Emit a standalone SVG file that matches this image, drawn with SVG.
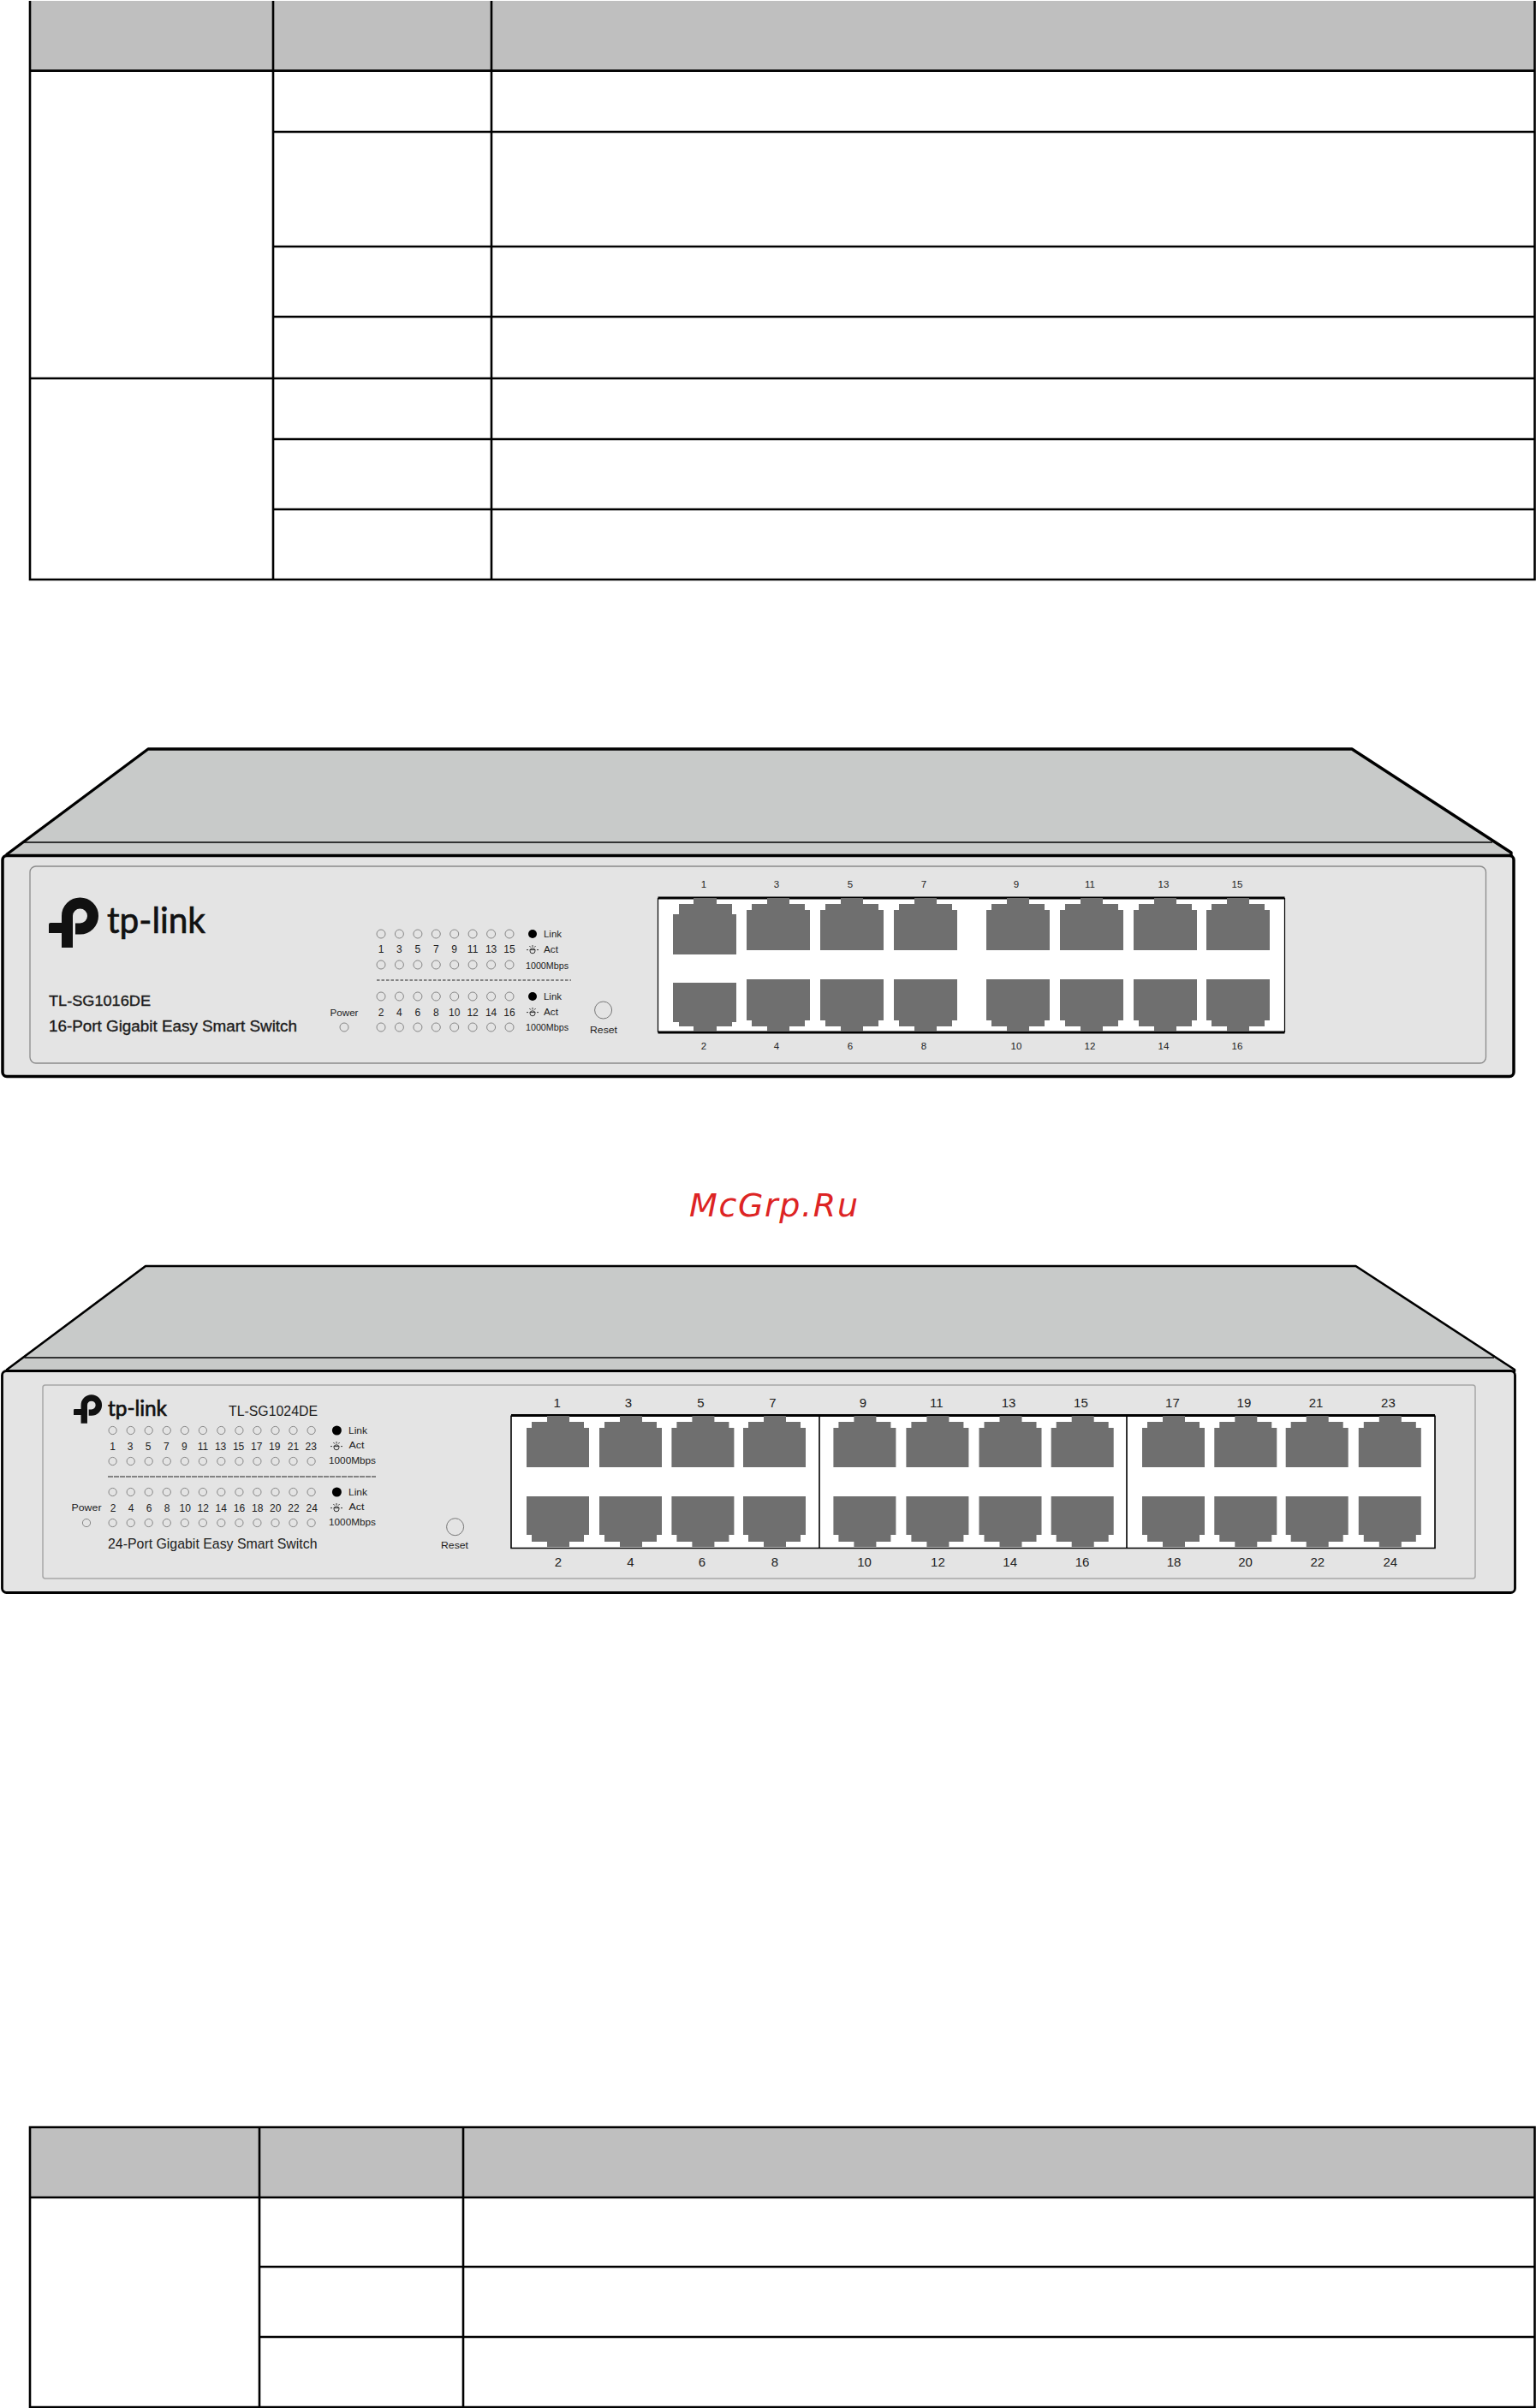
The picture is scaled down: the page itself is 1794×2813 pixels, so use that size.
<svg xmlns="http://www.w3.org/2000/svg" xmlns:xlink="http://www.w3.org/1999/xlink" width="1794" height="2813" viewBox="0 0 1794 2813">
<style>
.tl{stroke:#000;stroke-width:2.6;fill:none}
.hd{fill:#bfbfbf}
.top{fill:#c8cac9;stroke:#000;stroke-linejoin:round}
.front{fill:#e4e4e4;stroke:#000}
.panel{fill:#e4e4e4;stroke:#8a8a8a;stroke-width:1.3}
.panel2{fill:#e4e4e4;stroke:#a6a6a6;stroke-width:1.5}
.edge{stroke:#000;stroke-width:1.5;fill:none}
.box{fill:#fff}
.port{fill:#6f6f6f}
.led{fill:none;stroke:#7c7c7c;stroke-width:.9}
.t{font-family:"Liberation Sans",Arial,sans-serif;fill:#1c1c1c}
.hv{stroke:#1c1c1c;stroke-width:.35}
.m{text-anchor:middle}
.n1{font-size:12px}
.n2{font-size:12px}
.lb1{font-size:11.5px}
.lb2{font-size:15px}
.s{font-size:11.5px}
.logo{font-family:Lato,"Open Sans",sans-serif;fill:#111;stroke:#111;stroke-width:.7}
.wm{font-family:"DejaVu Sans",sans-serif;font-style:italic;font-size:38px;fill:#dd2424}
</style>
<defs>
<g id="mark">
<path d="M21.5 59V22A15 15 0 1 1 36.5 37H31" fill="none" stroke="#111" stroke-width="13"/>
<path d="M2 30H28V42H0V32Q0 30 2 30Z" fill="#111"/>
</g>
<g id="act" fill="none" stroke="#222" stroke-width=".9">
<circle cx="0" cy="1.8" r="3"/>
<path d="M-3.4 .6H3.4M0 -5V-2.6M-3.6 -4L-2.2 -2.4M3.6 -4L2.2 -2.4M-7 .6H-5M5 .6H7"/>
</g>
<path id="pt" class="port" d="M0 14H6V7H24V0H50V7H68V14H74V61H0Z"/>
<path id="pb" class="port" d="M0 0H74V48H68V55H50V61H24V55H6V48H0Z"/>
<path id="pt2" class="port" d="M0 14H6V7H24V0H50V7H67V14H73V60H0Z"/>
<path id="pb2" class="port" d="M0 0H73V45H67V53H50V59H24V53H6V45H0Z"/>
</defs>
<rect width="1794" height="2813" fill="#fff"/>

<g id="table-top">
<rect class="hd" x="35" y="1" width="1757" height="81.500"/>
<path class="tl" d="M35 1V677H1792.500V1M35 82.600H1792.500M319 1V677M574 1V677M319 154H1792.500M319 288H1792.500M319 370H1792.500M35 442H1792.500M319 513H1792.500M319 595H1792.500"/>
</g>

<g id="switch-16">
<path class="top" stroke-width="3.400" d="M173 875H1579L1765 996V1001H8V998Z"/>
<path class="edge" d="M28 984H1743"/>
<rect class="front" stroke-width="3.500" x="3" y="999.500" width="1765" height="258" rx="5"/>
<rect class="panel" x="35" y="1012" width="1700.500" height="230" rx="7"/>
<g id="logo-16">
<use href="#mark" x="57" y="1048"/>
<text class="logo" x="125" y="1090" font-size="42" textLength="115" lengthAdjust="spacingAndGlyphs">tp-link</text>
</g>
<text class="t hv" x="57" y="1175" font-size="16.500" textLength="119" lengthAdjust="spacingAndGlyphs">TL-SG1016DE</text>
<text class="t hv" x="57" y="1205" font-size="17.500" textLength="290" lengthAdjust="spacingAndGlyphs">16-Port Gigabit Easy Smart Switch</text>
<g id="leds-16">
<circle class="led" cx="445" cy="1091" r="5"/><circle class="led" cx="466.400" cy="1091" r="5"/><circle class="led" cx="487.900" cy="1091" r="5"/><circle class="led" cx="509.300" cy="1091" r="5"/><circle class="led" cx="530.700" cy="1091" r="5"/><circle class="led" cx="552.100" cy="1091" r="5"/><circle class="led" cx="573.600" cy="1091" r="5"/><circle class="led" cx="595" cy="1091" r="5"/>
<circle class="led" cx="445" cy="1127" r="5"/><circle class="led" cx="466.400" cy="1127" r="5"/><circle class="led" cx="487.900" cy="1127" r="5"/><circle class="led" cx="509.300" cy="1127" r="5"/><circle class="led" cx="530.700" cy="1127" r="5"/><circle class="led" cx="552.100" cy="1127" r="5"/><circle class="led" cx="573.600" cy="1127" r="5"/><circle class="led" cx="595" cy="1127" r="5"/>
<circle class="led" cx="445" cy="1164" r="5"/><circle class="led" cx="466.400" cy="1164" r="5"/><circle class="led" cx="487.900" cy="1164" r="5"/><circle class="led" cx="509.300" cy="1164" r="5"/><circle class="led" cx="530.700" cy="1164" r="5"/><circle class="led" cx="552.100" cy="1164" r="5"/><circle class="led" cx="573.600" cy="1164" r="5"/><circle class="led" cx="595" cy="1164" r="5"/>
<circle class="led" cx="445" cy="1200" r="5"/><circle class="led" cx="466.400" cy="1200" r="5"/><circle class="led" cx="487.900" cy="1200" r="5"/><circle class="led" cx="509.300" cy="1200" r="5"/><circle class="led" cx="530.700" cy="1200" r="5"/><circle class="led" cx="552.100" cy="1200" r="5"/><circle class="led" cx="573.600" cy="1200" r="5"/><circle class="led" cx="595" cy="1200" r="5"/>
<circle class="led" cx="402" cy="1200" r="5"/>
</g>
<g class="t m n1">
<text x="445" y="1113">1</text><text x="466.400" y="1113">3</text><text x="487.900" y="1113">5</text><text x="509.300" y="1113">7</text><text x="530.700" y="1113">9</text><text x="552.100" y="1113">11</text><text x="573.600" y="1113">13</text><text x="595" y="1113">15</text>
<text x="445" y="1187">2</text><text x="466.400" y="1187">4</text><text x="487.900" y="1187">6</text><text x="509.300" y="1187">8</text><text x="530.700" y="1187">10</text><text x="552.100" y="1187">12</text><text x="573.600" y="1187">14</text><text x="595" y="1187">16</text>
</g>
<circle cx="622" cy="1091" r="5" fill="#000"/>
<use href="#act" x="622" y="1109"/>
<circle cx="622" cy="1164" r="5" fill="#000"/>
<use href="#act" x="622" y="1182"/>
<g class="t s">
<text x="635" y="1095" textLength="21" lengthAdjust="spacingAndGlyphs">Link</text>
<text x="635" y="1113" textLength="17" lengthAdjust="spacingAndGlyphs">Act</text>
<text x="614" y="1132" textLength="50" lengthAdjust="spacingAndGlyphs">1000Mbps</text>
<text x="635" y="1168" textLength="21" lengthAdjust="spacingAndGlyphs">Link</text>
<text x="635" y="1186" textLength="17" lengthAdjust="spacingAndGlyphs">Act</text>
<text x="614" y="1204" textLength="50" lengthAdjust="spacingAndGlyphs">1000Mbps</text>
<text x="385.500" y="1187" textLength="33" lengthAdjust="spacingAndGlyphs">Power</text>
<text x="689" y="1207" textLength="32" lengthAdjust="spacingAndGlyphs">Reset</text>
</g>
<path d="M440 1145H667" stroke="#222" stroke-width="1" stroke-dasharray="3.500 2" fill="none"/>
<circle cx="704.600" cy="1180" r="10" fill="none" stroke="#777" stroke-width="1"/>
<g id="ports-16">
<rect class="box" x="768.500" y="1049" width="732" height="157"/>
<path d="M768.500 1049H1500.500M768.500 1206H1500.500" stroke="#000" stroke-width="3" fill="none"/>
<path d="M768.500 1049V1206M1500.500 1049V1206" stroke="#000" stroke-width="1.200" fill="none"/>
<path class="port" d="M786 1068H793V1056H810V1049H837V1056H855V1068H860V1115H786Z"/>
<path class="port" d="M786 1148H860V1194H855V1199H837V1205H810V1199H793V1194H786Z"/>
<use href="#pt" x="872" y="1049"/><use href="#pt" x="958" y="1049"/><use href="#pt" x="1044" y="1049"/><use href="#pt" x="1152" y="1049"/><use href="#pt" x="1238" y="1049"/><use href="#pt" x="1324" y="1049"/><use href="#pt" x="1409" y="1049"/>
<use href="#pb" x="872" y="1144"/><use href="#pb" x="958" y="1144"/><use href="#pb" x="1044" y="1144"/><use href="#pb" x="1152" y="1144"/><use href="#pb" x="1238" y="1144"/><use href="#pb" x="1324" y="1144"/><use href="#pb" x="1409" y="1144"/>
</g>
<g class="t m lb1">
<text x="822" y="1037">1</text><text x="907" y="1037">3</text><text x="993" y="1037">5</text><text x="1079" y="1037">7</text><text x="1187" y="1037">9</text><text x="1273" y="1037">11</text><text x="1359" y="1037">13</text><text x="1445" y="1037">15</text>
<text x="822" y="1226">2</text><text x="907" y="1226">4</text><text x="993" y="1226">6</text><text x="1079" y="1226">8</text><text x="1187" y="1226">10</text><text x="1273" y="1226">12</text><text x="1359" y="1226">14</text><text x="1445" y="1226">16</text>
</g>
</g>

<text id="watermark" class="wm" x="805" y="1421" textLength="197" lengthAdjust="spacing">McGrp.Ru</text>

<g id="switch-24">
<path class="top" stroke-width="2.600" d="M170 1479H1583.500L1769 1600V1602H8V1600Z"/>
<path class="edge" d="M28.500 1586H1745"/>
<rect class="front" stroke-width="2.800" x="2.500" y="1601.500" width="1767" height="259" rx="5"/>
<rect class="panel2" x="50" y="1618" width="1673" height="226" rx="3"/>
<g id="logo-24">
<use href="#mark" transform="translate(86 1629) scale(.57)"/>
<text class="logo" x="126" y="1654" font-size="25" textLength="69" lengthAdjust="spacingAndGlyphs">tp-link</text>
</g>
<text class="t" x="267" y="1654" font-size="16" textLength="104" lengthAdjust="spacingAndGlyphs">TL-SG1024DE</text>
<text class="t" x="126" y="1809" font-size="17" textLength="244.500" lengthAdjust="spacingAndGlyphs">24-Port Gigabit Easy Smart Switch</text>
<g id="leds-24">
<circle class="led" cx="131.600" cy="1671" r="4.600"/><circle class="led" cx="152.700" cy="1671" r="4.600"/><circle class="led" cx="173.700" cy="1671" r="4.600"/><circle class="led" cx="194.800" cy="1671" r="4.600"/><circle class="led" cx="215.800" cy="1671" r="4.600"/><circle class="led" cx="236.900" cy="1671" r="4.600"/><circle class="led" cx="258.300" cy="1671" r="4.600"/><circle class="led" cx="279.400" cy="1671" r="4.600"/><circle class="led" cx="300.400" cy="1671" r="4.600"/><circle class="led" cx="321.500" cy="1671" r="4.600"/><circle class="led" cx="342.500" cy="1671" r="4.600"/><circle class="led" cx="363.600" cy="1671" r="4.600"/>
<circle class="led" cx="131.600" cy="1707" r="4.600"/><circle class="led" cx="152.700" cy="1707" r="4.600"/><circle class="led" cx="173.700" cy="1707" r="4.600"/><circle class="led" cx="194.800" cy="1707" r="4.600"/><circle class="led" cx="215.800" cy="1707" r="4.600"/><circle class="led" cx="236.900" cy="1707" r="4.600"/><circle class="led" cx="258.300" cy="1707" r="4.600"/><circle class="led" cx="279.400" cy="1707" r="4.600"/><circle class="led" cx="300.400" cy="1707" r="4.600"/><circle class="led" cx="321.500" cy="1707" r="4.600"/><circle class="led" cx="342.500" cy="1707" r="4.600"/><circle class="led" cx="363.600" cy="1707" r="4.600"/>
<circle class="led" cx="131.600" cy="1743" r="4.600"/><circle class="led" cx="152.700" cy="1743" r="4.600"/><circle class="led" cx="173.700" cy="1743" r="4.600"/><circle class="led" cx="194.800" cy="1743" r="4.600"/><circle class="led" cx="215.800" cy="1743" r="4.600"/><circle class="led" cx="236.900" cy="1743" r="4.600"/><circle class="led" cx="258.300" cy="1743" r="4.600"/><circle class="led" cx="279.400" cy="1743" r="4.600"/><circle class="led" cx="300.400" cy="1743" r="4.600"/><circle class="led" cx="321.500" cy="1743" r="4.600"/><circle class="led" cx="342.500" cy="1743" r="4.600"/><circle class="led" cx="363.600" cy="1743" r="4.600"/>
<circle class="led" cx="131.600" cy="1779" r="4.600"/><circle class="led" cx="152.700" cy="1779" r="4.600"/><circle class="led" cx="173.700" cy="1779" r="4.600"/><circle class="led" cx="194.800" cy="1779" r="4.600"/><circle class="led" cx="215.800" cy="1779" r="4.600"/><circle class="led" cx="236.900" cy="1779" r="4.600"/><circle class="led" cx="258.300" cy="1779" r="4.600"/><circle class="led" cx="279.400" cy="1779" r="4.600"/><circle class="led" cx="300.400" cy="1779" r="4.600"/><circle class="led" cx="321.500" cy="1779" r="4.600"/><circle class="led" cx="342.500" cy="1779" r="4.600"/><circle class="led" cx="363.600" cy="1779" r="4.600"/>
<circle class="led" cx="101" cy="1779" r="4.600"/>
</g>
<g class="t m n2">
<text x="131.600" y="1693.500">1</text><text x="152" y="1693.500">3</text><text x="173" y="1693.500">5</text><text x="194.400" y="1693.500">7</text><text x="215.400" y="1693.500">9</text><text x="236.900" y="1693.500">11</text><text x="257.600" y="1693.500">13</text><text x="278.600" y="1693.500">15</text><text x="299.700" y="1693.500">17</text><text x="320.700" y="1693.500">19</text><text x="342.500" y="1693.500">21</text><text x="363.200" y="1693.500">23</text>
<text x="132" y="1765.500">2</text><text x="153" y="1765.500">4</text><text x="174" y="1765.500">6</text><text x="195.200" y="1765.500">8</text><text x="216.200" y="1765.500">10</text><text x="237.300" y="1765.500">12</text><text x="258.300" y="1765.500">14</text><text x="279.400" y="1765.500">16</text><text x="300.800" y="1765.500">18</text><text x="321.800" y="1765.500">20</text><text x="342.900" y="1765.500">22</text><text x="364.300" y="1765.500">24</text>
</g>
<circle cx="393.400" cy="1671" r="5.500" fill="#000"/>
<use href="#act" x="393" y="1689"/>
<circle cx="393.400" cy="1743" r="5.500" fill="#000"/>
<use href="#act" x="393" y="1761"/>
<g class="t s">
<text x="407" y="1675" textLength="22" lengthAdjust="spacingAndGlyphs">Link</text>
<text x="407.500" y="1692" textLength="18" lengthAdjust="spacingAndGlyphs">Act</text>
<text x="384" y="1710" textLength="55" lengthAdjust="spacingAndGlyphs">1000Mbps</text>
<text x="407" y="1747" textLength="22" lengthAdjust="spacingAndGlyphs">Link</text>
<text x="407.500" y="1764" textLength="18" lengthAdjust="spacingAndGlyphs">Act</text>
<text x="384" y="1782" textLength="55" lengthAdjust="spacingAndGlyphs">1000Mbps</text>
<text x="83.500" y="1765" textLength="35" lengthAdjust="spacingAndGlyphs">Power</text>
<text x="515" y="1809" textLength="32" lengthAdjust="spacingAndGlyphs">Reset</text>
</g>
<path d="M126 1725H439" stroke="#222" stroke-width="1" stroke-dasharray="6 1" fill="none"/>
<circle cx="531.600" cy="1783.700" r="10" fill="none" stroke="#777" stroke-width="1"/>
<g id="ports-24">
<rect class="box" x="597" y="1653.500" width="1079" height="155"/>
<path d="M597 1653.500H1676" stroke="#000" stroke-width="3" fill="none"/>
<path d="M597 1653.500V1808.500H1676V1653.500M957 1653.500V1808.500M1316 1653.500V1808.500" stroke="#000" stroke-width="1.600" fill="none"/>
<use href="#pt2" x="615" y="1654"/><use href="#pt2" x="700" y="1654"/><use href="#pt2" x="784.400" y="1654"/><use href="#pt2" x="868" y="1654"/><use href="#pt2" x="973.400" y="1654"/><use href="#pt2" x="1058.400" y="1654"/><use href="#pt2" x="1143.500" y="1654"/><use href="#pt2" x="1227.700" y="1654"/><use href="#pt2" x="1334" y="1654"/><use href="#pt2" x="1418.300" y="1654"/><use href="#pt2" x="1501.700" y="1654"/><use href="#pt2" x="1586.800" y="1654"/>
<use href="#pb2" x="615" y="1748"/><use href="#pb2" x="700" y="1748"/><use href="#pb2" x="784.400" y="1748"/><use href="#pb2" x="868" y="1748"/><use href="#pb2" x="973.400" y="1748"/><use href="#pb2" x="1058.400" y="1748"/><use href="#pb2" x="1143.500" y="1748"/><use href="#pb2" x="1227.700" y="1748"/><use href="#pb2" x="1334" y="1748"/><use href="#pb2" x="1418.300" y="1748"/><use href="#pb2" x="1501.700" y="1748"/><use href="#pb2" x="1586.800" y="1748"/>
</g>
<g class="t m lb2">
<text x="650.600" y="1644">1</text><text x="734" y="1644">3</text><text x="818.300" y="1644">5</text><text x="902.500" y="1644">7</text><text x="1008" y="1644">9</text><text x="1093.900" y="1644">11</text><text x="1178" y="1644">13</text><text x="1262.400" y="1644">15</text><text x="1369.400" y="1644">17</text><text x="1452.900" y="1644">19</text><text x="1537" y="1644">21</text><text x="1621.400" y="1644">23</text>
<text x="652" y="1830">2</text><text x="736.400" y="1830">4</text><text x="820" y="1830">6</text><text x="905" y="1830">8</text><text x="1009.600" y="1830">10</text><text x="1095.400" y="1830">12</text><text x="1179.700" y="1830">14</text><text x="1264" y="1830">16</text><text x="1371" y="1830">18</text><text x="1454.500" y="1830">20</text><text x="1538.800" y="1830">22</text><text x="1623.800" y="1830">24</text>
</g>
</g>

<g id="table-bottom">
<rect class="hd" x="35" y="2485" width="1757" height="82"/>
<path class="tl" d="M35 2485H1792.500V2812H35ZM35 2567H1792.500M303 2485V2812M541 2485V2812M303 2648H1792.500M303 2730H1792.500"/>
</g>
</svg>
